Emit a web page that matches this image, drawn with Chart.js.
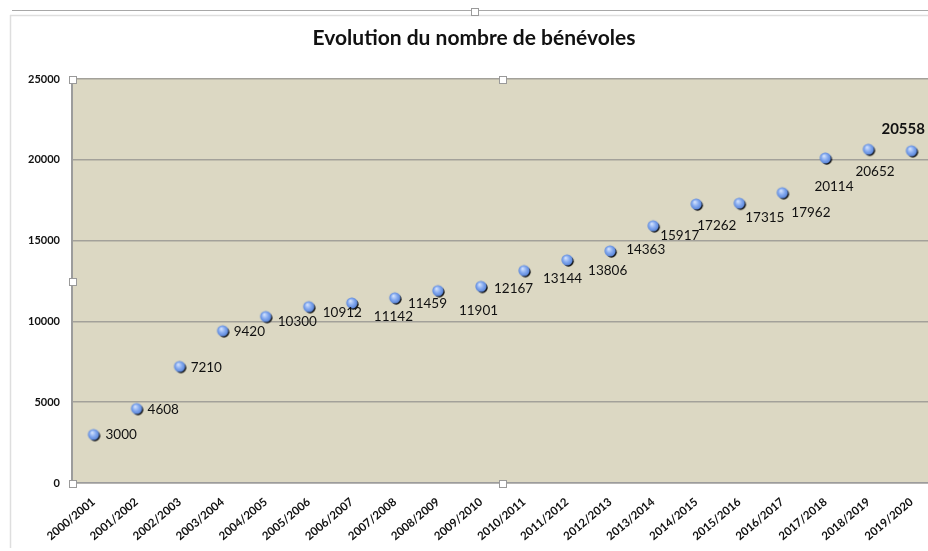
<!DOCTYPE html>
<html>
<head>
<meta charset="utf-8">
<script src="https://cdn.jsdelivr.net/npm/chart.js@4/dist/chart.umd.min.js"></script>
<style>
  html, body { margin: 0; padding: 0; background: #fff; overflow: hidden; }
  #chart { display: block; }
</style>
</head>
<body>
<canvas id="chart" width="940" height="551"></canvas>
<script>
const seasons = ['2000/2001', '2001/2002', '2002/2003', '2003/2004', '2004/2005',
  '2005/2006', '2006/2007', '2007/2008', '2008/2009', '2009/2010', '2010/2011',
  '2011/2012', '2012/2013', '2013/2014', '2014/2015', '2015/2016', '2016/2017',
  '2017/2018', '2018/2019', '2019/2020'];
const volunteers = [3000, 4608, 7210, 9420, 10300, 10912, 11142, 11459, 11901, 12167,
  13144, 13806, 14363, 15917, 17262, 17315, 17962, 20114, 20652, 20558];
const yTicks = [0, 5000, 10000, 15000, 20000, 25000];

// where each value label sits relative to its point (as placed in the original)
const labelOffsets = [
  [12, 0], [11, 1], [11, 1], [11, 1], [12, 5], [14, 6], [22, 14], [13, 6], [21, 20], [13, 2],
  [19, 8], [21, 11], [16, -1], [7, 10], [1, 22], [6, 14], [9, 20], [-11, 29], [-13, 22], [-30, -22]
];

// small shaded ball used as the marker
function makeBall() {
  const c = document.createElement('canvas');
  c.width = 16; c.height = 16;
  const g = c.getContext('2d');
  g.fillStyle = '#111';
  g.beginPath(); g.arc(9.3, 9.3, 5.4, 0, Math.PI * 2); g.fill();
  const grad = g.createRadialGradient(6.5, 6, 0.5, 8, 8, 5.8);
  grad.addColorStop(0, '#cfdffc');
  grad.addColorStop(0.5, '#86abf0');
  grad.addColorStop(1, '#5581d6');
  g.fillStyle = grad;
  g.beginPath(); g.arc(8, 8, 5.6, 0, Math.PI * 2); g.fill();
  return c;
}

const plotBg = {
  id: 'plotBg',
  beforeDraw(chart) {
    const { ctx, chartArea: a } = chart;
    ctx.save();
    // outer frame lines
    ctx.strokeStyle = '#a8a8a8';
    ctx.lineWidth = 1;
    ctx.beginPath(); ctx.moveTo(12, 10.5); ctx.lineTo(940, 10.5); ctx.stroke();
    ctx.strokeStyle = '#dedede';
    ctx.lineWidth = 1.5;
    ctx.beginPath(); ctx.moveTo(10, 15.5); ctx.lineTo(940, 15.5); ctx.stroke();
    ctx.beginPath(); ctx.moveTo(10.5, 15); ctx.lineTo(10.5, 548); ctx.stroke();
    ctx.fillStyle = '#dcd8c3';
    ctx.fillRect(a.left, a.top, a.right - a.left, a.bottom - a.top);
    ctx.restore();
  }
};

const valueLabels = {
  id: 'valueLabels',
  afterDatasetsDraw(chart) {
    const { ctx } = chart;
    const meta = chart.getDatasetMeta(0);
    ctx.save();
    ctx.fillStyle = '#111';
    ctx.textAlign = 'left';
    ctx.textBaseline = 'middle';
    meta.data.forEach((pt, i) => {
      const last = i === volunteers.length - 1;
      ctx.font = last ? 'bold 15px Lato, "Open Sans", sans-serif' : '13.5px Lato, "Open Sans", sans-serif';
      const [dx, dy] = labelOffsets[i];
      ctx.fillText(String(volunteers[i]), pt.x + dx, pt.y + dy);
    });
    ctx.restore();
  }
};

const handles = {
  id: 'handles',
  afterDraw(chart) {
    const { ctx, chartArea: a } = chart;
    const midX = (a.left + a.right) / 2, midY = (a.top + a.bottom) / 2;
    const spots = [[a.left, a.top], [midX, a.top], [a.left, midY], [a.left, a.bottom], [midX, a.bottom], [474, 11]];
    ctx.save();
    ctx.fillStyle = '#fff';
    ctx.strokeStyle = '#9a9a9a';
    ctx.lineWidth = 1;
    spots.forEach(([x, y]) => {
      const s = 7;
      const rx = Math.round(x - s / 2) + 0.5, ry = Math.round(y - s / 2) + 0.5;
      ctx.fillRect(rx, ry, s, s);
      ctx.strokeRect(rx, ry, s, s);
    });
    ctx.restore();
  }
};

const ball = makeBall();

new Chart(document.getElementById('chart'), {
  type: 'line',
  data: {
    labels: seasons,
    datasets: [{
      data: volunteers,
      showLine: false,
      pointStyle: ball,
      pointRadius: 6,
      pointHoverRadius: 6
    }]
  },
  options: {
    responsive: false,
    animation: false,
    layout: { padding: { left: 15, right: 7, top: 0, bottom: 0 } },
    plugins: {
      legend: { display: false },
      tooltip: { enabled: false },
      title: {
        display: true,
        text: 'Evolution du nombre de bénévoles',
        color: '#111',
        font: { family: 'Lato, "Open Sans", sans-serif', size: 21, weight: 'bold', lineHeight: 1.2 },
        padding: { top: 25.4, bottom: 28.4 }
      }
    },
    scales: {
      x: {
        offset: true,
        grid: { display: false },
        border: { display: true, color: '#9c9c9c', width: 1.5 },
        ticks: {
          color: '#111',
          font: { family: 'Lato, "Open Sans", sans-serif', size: 11.5, weight: 'bold' },
          minRotation: 40,
          maxRotation: 40,
          autoSkip: false,
          padding: 4
        },
        afterFit(scale) { scale.height = 68; }
      },
      y: {
        min: 0,
        max: 25000,
        afterBuildTicks(scale) { scale.ticks = yTicks.map(v => ({ value: v })); },
        grid: { color: '#a3a19a', lineWidth: 1.5, drawTicks: false },
        border: { display: true, color: '#9c9c9c', width: 2 },
        ticks: {
          color: '#111',
          padding: 12,
          callback: v => String(v),
          font: { family: 'Lato, "Open Sans", sans-serif', size: 11, weight: 'bold' }
        },
        afterFit(scale) { scale.width = 57; }
      }
    }
  },
  plugins: [plotBg, valueLabels, handles]
});
</script>
</body>
</html>
